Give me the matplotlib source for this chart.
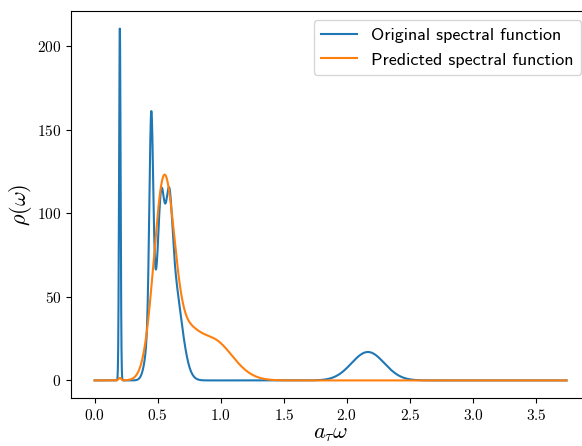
import numpy as np
import matplotlib
matplotlib.use("Agg")
import matplotlib.pyplot as plt

plt.rcParams['mathtext.fontset'] = 'cm'
plt.rcParams['font.family'] = 'cmr10'
plt.rcParams['axes.formatter.use_mathtext'] = True

# peaks of the original spectral function: centre, height, width
orig_centers = [0.200, 0.449, 0.460, 0.528, 0.589, 0.620, 2.166]
orig_heights = [211.0, 118.0, 42.0, 79.0, 56.0, 62.0, 17.0]
orig_widths = [0.006, 0.015, 0.040, 0.025, 0.025, 0.065, 0.130]

# peaks of the predicted spectral function
pred_centers = [0.200, 0.552, 0.740, 0.920]
pred_heights = [1.5, 120.0, 14.0, 25.0]
pred_widths = [0.010, 0.082, 0.080, 0.165]

omega_max = 3.74

omega = np.linspace(0, omega_max, 3000)


def spectral(w, centers, heights, widths):
    rho = np.zeros_like(w)
    for c, h, s in zip(centers, heights, widths):
        rho += h * np.exp(-(w - c)**2 / (2 * s**2))
    return rho


rho_orig = spectral(omega, orig_centers, orig_heights, orig_widths)
rho_pred = spectral(omega, pred_centers, pred_heights, pred_widths)

fig = plt.figure(figsize=(5.82, 4.46), dpi=100)
ax = fig.add_axes([0.122, 0.1076, 0.892, 0.8677])

ax.plot(omega, rho_orig, color='#1f77b4', lw=1.5, label='Original spectral function')
ax.plot(omega, rho_pred, color='#ff7f0e', lw=1.5, label='Predicted spectral function')

ax.set_xlabel(r'$a_\tau\omega$', fontsize=16, labelpad=1)
ax.set_ylabel(r'$\rho(\omega)$', fontsize=16, labelpad=2)
ax.tick_params(labelsize=11)

ax.legend(loc='upper right', prop={'family': 'cmss10', 'size': 13})

fig.savefig('out.png', dpi=100)
